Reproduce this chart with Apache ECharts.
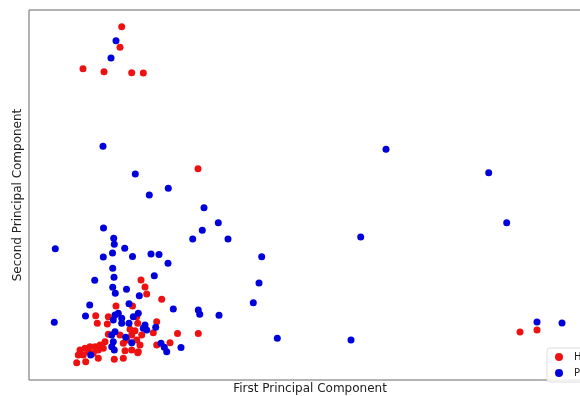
<!DOCTYPE html>
<html>
<head>
<meta charset="utf-8">
<script src="https://cdn.jsdelivr.net/npm/echarts@6/dist/echarts.min.js"></script>
<style>
  html, body { margin: 0; padding: 0; background: #fff; }
  #main { width: 580px; height: 396px; }
</style>
</head>
<body>
<div id="main"></div>
<script>
// legend labels (only first letters are visible in the reference)
const seriesNames = ['Healthy', "Parkinson's"];

// [first PC, second PC] for the red group
const healthyPoints = [
  [9.27, 35.33], [9.10, 33.27], [5.40, 31.13], [7.50, 30.83], [10.27, 30.73], [11.43, 30.70],
  [16.90, 21.13], [49.10, 4.80], [50.80, 5.00],
  [11.20, 10.00], [11.60, 9.30], [11.77, 8.60], [13.27, 8.07], [10.35, 7.40], [8.70, 7.40],
  [10.77, 6.33], [12.77, 5.83], [10.87, 5.67], [10.60, 4.93], [11.27, 4.50], [12.43, 4.73],
  [14.85, 4.65], [16.93, 4.65], [10.77, 4.00], [11.10, 3.50], [10.93, 2.83], [12.77, 3.50],
  [14.10, 3.73], [9.77, 4.00], [6.67, 6.43], [6.83, 5.67], [7.93, 6.33], [7.83, 5.60],
  [7.93, 4.57], [7.60, 3.83], [7.10, 3.50], [6.60, 3.33], [6.10, 3.33], [5.60, 3.17],
  [5.10, 3.00], [4.93, 2.50], [5.43, 2.50], [5.93, 2.83], [6.43, 2.67], [6.93, 3.00],
  [7.43, 3.17], [4.77, 1.73], [5.67, 1.83], [6.93, 2.17], [8.53, 2.07], [9.60, 2.93],
  [9.43, 3.67], [10.27, 4.50], [10.10, 5.07], [10.27, 3.00], [9.10, 4.50], [9.43, 2.17],
  [10.87, 2.73]
];

// [first PC, second PC] for the blue group
const parkinsonPoints = [
  [8.70, 33.93], [8.20, 32.20], [7.40, 23.37], [10.63, 20.60], [12.03, 18.50], [13.93, 19.17],
  [17.50, 17.23], [18.93, 15.73], [17.33, 14.97], [16.37, 14.10], [19.90, 14.10],
  [35.70, 23.07], [45.97, 20.73], [47.77, 15.73], [33.17, 14.30], [23.27, 12.33],
  [23.00, 9.70], [22.43, 7.73], [24.83, 4.17], [32.20, 4.00], [50.80, 5.80], [53.30, 5.70],
  [7.45, 15.20], [8.47, 14.17], [8.53, 13.57], [9.57, 13.17], [2.63, 13.13], [7.43, 12.30],
  [8.35, 12.70], [10.35, 12.35], [12.20, 12.60], [13.00, 12.55], [13.90, 11.67], [12.53, 10.43],
  [8.37, 11.17], [8.50, 10.27], [6.57, 9.97], [8.37, 9.27], [8.63, 8.67], [9.75, 9.07],
  [11.03, 8.43], [6.07, 7.50], [5.65, 6.40], [2.53, 5.77], [14.43, 7.10], [16.93, 7.00],
  [17.07, 6.57], [19.00, 6.47], [10.00, 7.63], [10.93, 6.67], [10.00, 5.67], [11.60, 5.50],
  [11.43, 5.17], [11.77, 5.00], [12.67, 5.27], [13.20, 3.67], [13.53, 3.27], [13.77, 2.83],
  [15.20, 3.25], [8.60, 6.50], [8.93, 6.67], [8.43, 6.00], [9.27, 6.17], [9.27, 5.67],
  [10.43, 6.33], [8.60, 4.83], [8.27, 4.50], [8.43, 3.83], [8.27, 3.33], [8.53, 3.00],
  [6.17, 2.50], [9.67, 4.27], [10.27, 3.73]
];

const chart = echarts.init(document.getElementById('main'), null, {renderer: 'canvas'});

const hiddenAxis = {
  axisLine: {show: false},
  axisTick: {show: false},
  axisLabel: {show: false},
  splitLine: {show: false},
};

const option = {
  animation: false,
  textStyle: {fontFamily: 'DejaVu Sans'},
  grid: {
    left: 29, top: 10, right: -11, bottom: 16,
    outerBoundsMode: 'none',
    containLabel: false,
    show: true, borderColor: '#666', borderWidth: 1, backgroundColor: '#fff'
  },
  xAxis: {
    type: 'value', min: 0, max: 56.2,
    name: 'First Principal Component',
    nameLocation: 'middle', nameGap: 3,
    nameTextStyle: {fontSize: 12, color: '#222', fontFamily: 'DejaVu Sans'},
    ...hiddenAxis
  },
  yAxis: {
    type: 'value', min: 0, max: 37,
    name: 'Second Principal Component',
    nameLocation: 'middle', nameGap: 5,
    nameTextStyle: {fontSize: 12, color: '#222', fontFamily: 'DejaVu Sans'},
    ...hiddenAxis
  },
  legend: {
    data: seriesNames,
    orient: 'vertical',
    left: 547, top: 348,
    icon: 'circle',
    itemWidth: 8, itemHeight: 8, itemGap: 6,
    padding: [4, 8],
    backgroundColor: 'rgba(255,255,255,0.85)',
    borderColor: '#ddd', borderWidth: 1, borderRadius: 3,
    textStyle: {fontSize: 10, color: '#222', fontFamily: 'DejaVu Sans', padding: [0, 0, 0, 6]}
  },
  series: [
    {
      name: seriesNames[0],
      type: 'scatter',
      data: healthyPoints,
      symbolSize: 7,
      itemStyle: {color: '#ee1111', opacity: 1},
      emphasis: {disabled: true}
    },
    {
      name: seriesNames[1],
      type: 'scatter',
      data: parkinsonPoints,
      symbolSize: 7,
      itemStyle: {color: '#0000dd', opacity: 1},
      emphasis: {disabled: true}
    }
  ]
};

chart.setOption(option);
</script>
</body>
</html>
